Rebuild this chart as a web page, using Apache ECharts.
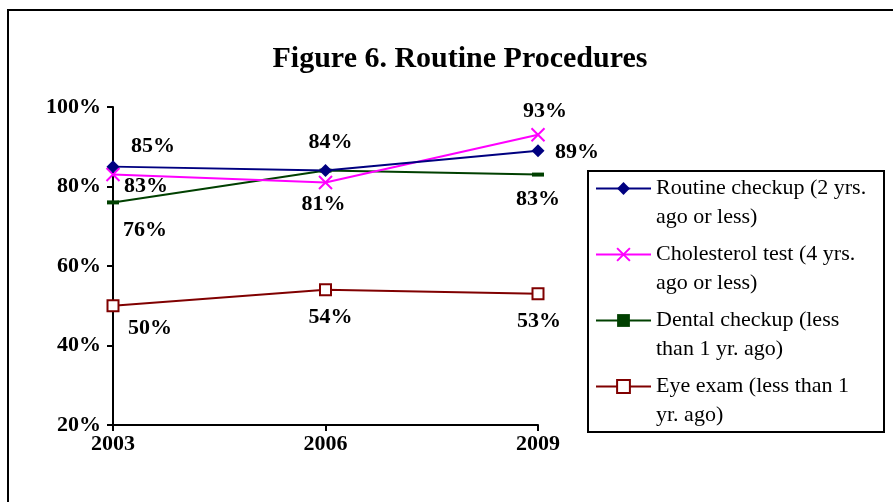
<!DOCTYPE html>
<html>
<head>
<meta charset="utf-8">
<script src="https://cdn.jsdelivr.net/npm/echarts@6/dist/echarts.min.js"></script>
<style>
  html, body { margin: 0; padding: 0; background: #fff; }
  #frame { position: absolute; left: 7px; top: 9px; width: 900px; height: 500px;
    border-top: 2px solid #000; border-left: 2px solid #000; }
  #chart { position: absolute; left: 0; top: 0; width: 893px; height: 502px; }
</style>
</head>
<body>
<div id="frame"></div>
<div id="chart"></div>
<script>
const years = ['2003', '2006', '2009']
const routine = [85, 84, 89]
const cholesterol = [83, 81, 93]
const dental = [76, 84, 83]
const eye = [50, 54, 53]
const yTicks = [20, 40, 60, 80, 100]

const names = [
  'Routine checkup (2 yrs. ago or less)',
  'Cholesterol test (4 yrs. ago or less)',
  'Dental checkup (less than 1 yr. ago)',
  'Eye exam (less than 1 yr. ago)',
]
// legend text broken like the original; leading blank line puts the icon on the first line
const wrapped = {
  [names[0]]: '\nRoutine checkup (2 yrs.\nago or less)',
  [names[1]]: '\nCholesterol test (4 yrs.\nago or less)',
  [names[2]]: '\nDental checkup (less\nthan 1 yr. ago)',
  [names[3]]: '\nEye exam (less than 1\nyr. ago)',
}

const font = '"Liberation Serif", "Times New Roman", serif'

// label offsets per point, null = no label
const offsets = {
  routine: [[40, -20], [5, -28], [39, 2]],
  cholesterol: [[33, 12], [-2, 22], [7, -24]],
  dental: [[32, 28], null, [0, 25]],
  eye: [[37, 23], [5, 27], [1, 27]],
}

const points = (values, offs) => values.map((v, i) => ({
  value: v,
  label: offs[i]
    ? { show: true, position: 'inside', offset: offs[i] }
    : { show: false },
}))

const labelStyle = {
  formatter: p => p.value + '%',
  color: '#000',
  fontFamily: font,
  fontWeight: 'bold',
  fontSize: 22,
}

const chart = echarts.init(document.getElementById('chart'))
chart.setOption({
  animation: false,
  title: {
    text: 'Figure 6. Routine Procedures',
    left: 455,
    textAlign: 'center',
    top: 39,
    textStyle: { fontFamily: font, fontWeight: 'bold', fontSize: 30, color: '#000' },
  },
  grid: { left: 113, right: 355, top: 107, bottom: 77 },
  graphic: [{
    type: 'rect',
    shape: { x: 588, y: 171, width: 296, height: 261 },
    style: { fill: 'none', stroke: '#000', lineWidth: 2 },
    z: 0,
  }],
  legend: {
    orient: 'vertical',
    left: 590,
    top: 140,
    itemWidth: 55,
    itemHeight: 16,
    itemGap: -21,
    formatter: n => wrapped[n],
    textStyle: {
      fontFamily: font, fontSize: 22, color: '#000', lineHeight: 29,
    },
    data: names,
  },
  xAxis: {
    type: 'category',
    data: years,
    boundaryGap: false,
    axisLine: { lineStyle: { color: '#000', width: 2 } },
    axisTick: { alignWithLabel: true, length: 6, lineStyle: { color: '#000', width: 2 } },
    axisLabel: { color: '#000', fontFamily: font, fontWeight: 'bold', fontSize: 22, margin: 8 },
  },
  yAxis: {
    type: 'value',
    min: yTicks[0],
    max: yTicks[yTicks.length - 1],
    interval: 20,
    splitLine: { show: false },
    axisLine: { show: true, lineStyle: { color: '#000', width: 2 } },
    axisTick: { show: true, length: 6, lineStyle: { color: '#000', width: 2 } },
    axisLabel: {
      color: '#000', fontFamily: font, fontWeight: 'bold', fontSize: 22, margin: 12,
      formatter: v => v + '%',
    },
  },
  series: [
    {
      name: names[0],
      type: 'line',
      data: points(routine, offsets.routine),
      symbol: 'diamond',
      symbolSize: 13,
      itemStyle: { color: '#000080' },
      lineStyle: { color: '#000080', width: 2 },
      label: labelStyle,
      z: 4,
    },
    {
      name: names[1],
      type: 'line',
      data: points(cholesterol, offsets.cholesterol),
      symbol: 'path://M0,0L10,10M10,0L0,10',
      symbolSize: 13,
      itemStyle: { color: 'rgba(0,0,0,0)', borderColor: '#FF00FF', borderWidth: 2 },
      lineStyle: { color: '#FF00FF', width: 2 },
      label: labelStyle,
      z: 3,
    },
    {
      name: names[2],
      type: 'line',
      data: points(dental, offsets.dental),
      symbol: 'rect',
      symbolSize: [12, 4],
      itemStyle: { color: '#004000' },
      lineStyle: { color: '#004000', width: 2 },
      label: labelStyle,
      z: 2,
    },
    {
      name: names[3],
      type: 'line',
      data: points(eye, offsets.eye),
      symbol: 'rect',
      symbolSize: 11,
      itemStyle: { color: '#fff', borderColor: '#800000', borderWidth: 2 },
      lineStyle: { color: '#800000', width: 2 },
      label: labelStyle,
      z: 2,
    },
  ],
})
</script>
</body>
</html>
